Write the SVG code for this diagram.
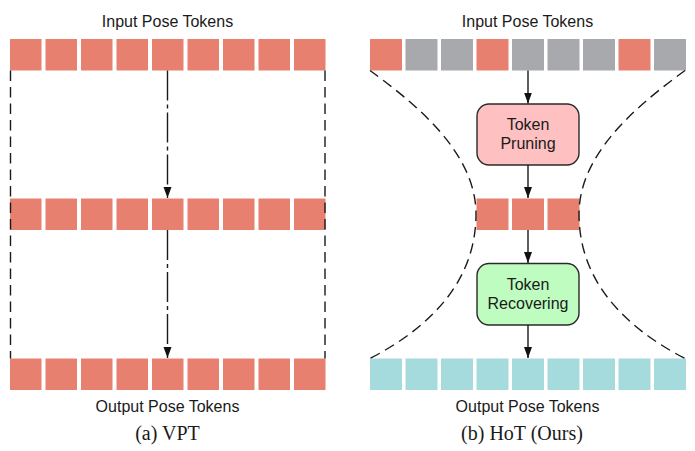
<svg xmlns="http://www.w3.org/2000/svg" width="695" height="451" viewBox="0 0 695 451">
<defs>
<style>
.r{fill:#E8806F}
.g{fill:#A7A9AC}
.c{fill:#A6DBDE}
.lbl{font-family:"Liberation Sans",Arial,sans-serif;font-size:16px;fill:#1a1a1a;text-anchor:middle}
.cap{font-family:"Liberation Serif","Times New Roman",serif;font-size:20px;fill:#1a1a1a;text-anchor:middle}
.dash{fill:none;stroke:#1a1a1a;stroke-width:1.4;stroke-dasharray:10.5 6}
.dd{fill:none;stroke:#1a1a1a;stroke-width:1.4;stroke-dasharray:30 4 4 4}
.arr{fill:none;stroke:#1a1a1a;stroke-width:1.4}
.box{stroke:#2a2a2a;stroke-width:1.4}
</style>
<marker id="ah" viewBox="0 0 11 9" refX="11" refY="4.5" markerWidth="11" markerHeight="9" markerUnits="userSpaceOnUse" orient="auto">
<path d="M0,0.5 L11,4.5 L0,8.5 Z" fill="#111"/>
</marker>
</defs>
<rect width="695" height="451" fill="#fff"/>

<text class="lbl" x="167.5" y="27">Input Pose Tokens</text>
<text class="lbl" x="527.5" y="27">Input Pose Tokens</text>
<text class="lbl" x="167.5" y="412">Output Pose Tokens</text>
<text class="lbl" x="527.5" y="412">Output Pose Tokens</text>
<text class="cap" x="167.5" y="440">(a) VPT</text>
<text class="cap" x="522" y="440">(b) HoT (Ours)</text>

<g id="vpt-input">
<rect class="r" x="10" y="39" width="31.5" height="31.5"/>
<rect class="r" x="45.5" y="39" width="31.5" height="31.5"/>
<rect class="r" x="81" y="39" width="31.5" height="31.5"/>
<rect class="r" x="116.5" y="39" width="31.5" height="31.5"/>
<rect class="r" x="152" y="39" width="31.5" height="31.5"/>
<rect class="r" x="187.5" y="39" width="31.5" height="31.5"/>
<rect class="r" x="223" y="39" width="31.5" height="31.5"/>
<rect class="r" x="258.5" y="39" width="31.5" height="31.5"/>
<rect class="r" x="294" y="39" width="31.5" height="31.5"/>
</g>
<g id="vpt-middle">
<rect class="r" x="10" y="198.5" width="31.5" height="31.5"/>
<rect class="r" x="45.5" y="198.5" width="31.5" height="31.5"/>
<rect class="r" x="81" y="198.5" width="31.5" height="31.5"/>
<rect class="r" x="116.5" y="198.5" width="31.5" height="31.5"/>
<rect class="r" x="152" y="198.5" width="31.5" height="31.5"/>
<rect class="r" x="187.5" y="198.5" width="31.5" height="31.5"/>
<rect class="r" x="223" y="198.5" width="31.5" height="31.5"/>
<rect class="r" x="258.5" y="198.5" width="31.5" height="31.5"/>
<rect class="r" x="294" y="198.5" width="31.5" height="31.5"/>
</g>
<g id="vpt-output">
<rect class="r" x="10" y="358.5" width="31.5" height="31.5"/>
<rect class="r" x="45.5" y="358.5" width="31.5" height="31.5"/>
<rect class="r" x="81" y="358.5" width="31.5" height="31.5"/>
<rect class="r" x="116.5" y="358.5" width="31.5" height="31.5"/>
<rect class="r" x="152" y="358.5" width="31.5" height="31.5"/>
<rect class="r" x="187.5" y="358.5" width="31.5" height="31.5"/>
<rect class="r" x="223" y="358.5" width="31.5" height="31.5"/>
<rect class="r" x="258.5" y="358.5" width="31.5" height="31.5"/>
<rect class="r" x="294" y="358.5" width="31.5" height="31.5"/>
</g>

<g id="hot-input">
<rect class="r" x="370" y="39" width="32" height="31.5"/>
<rect class="g" x="405.5" y="39" width="32" height="31.5"/>
<rect class="g" x="441" y="39" width="32" height="31.5"/>
<rect class="r" x="476.5" y="39" width="32" height="31.5"/>
<rect class="g" x="512" y="39" width="32" height="31.5"/>
<rect class="g" x="547.5" y="39" width="32" height="31.5"/>
<rect class="g" x="583" y="39" width="32" height="31.5"/>
<rect class="r" x="618.5" y="39" width="32" height="31.5"/>
<rect class="g" x="654" y="39" width="32" height="31.5"/>
</g>
<g id="hot-pruned">
<rect class="r" x="476.5" y="198.5" width="32" height="31.5"/>
<rect class="r" x="512" y="198.5" width="32" height="31.5"/>
<rect class="r" x="547.5" y="198.5" width="32" height="31.5"/>
</g>
<g id="hot-output">
<rect class="c" x="370" y="358.5" width="32" height="31.5"/>
<rect class="c" x="405.5" y="358.5" width="32" height="31.5"/>
<rect class="c" x="441" y="358.5" width="32" height="31.5"/>
<rect class="c" x="476.5" y="358.5" width="32" height="31.5"/>
<rect class="c" x="512" y="358.5" width="32" height="31.5"/>
<rect class="c" x="547.5" y="358.5" width="32" height="31.5"/>
<rect class="c" x="583" y="358.5" width="32" height="31.5"/>
<rect class="c" x="618.5" y="358.5" width="32" height="31.5"/>
<rect class="c" x="654" y="358.5" width="32" height="31.5"/>
</g>

<g id="token-pruning">
<rect class="box" x="477" y="104" width="102" height="61" rx="12" fill="#FFC0C1"/>
<text class="lbl" x="528" y="130">Token</text>
<text class="lbl" x="528" y="149">Pruning</text>
</g>
<g id="token-recovering">
<rect class="box" x="477" y="263.5" width="102" height="61.5" rx="12" fill="#BEFCBF"/>
<text class="lbl" x="528" y="290">Token</text>
<text class="lbl" x="528" y="309">Recovering</text>
</g>

<g id="connectors">
<line class="dash" x1="10.5" y1="70.5" x2="10.5" y2="358.5"/>
<line class="dash" x1="325" y1="70.5" x2="325" y2="358.5"/>
<line class="dd" x1="167.5" y1="70.5" x2="167.5" y2="198" marker-end="url(#ah)"/>
<line class="dd" x1="167.5" y1="230" x2="167.5" y2="358" marker-end="url(#ah)"/>
<path class="dash" d="M370,70.5 C410,100 476,150 476,214 C476,285 425,330 370,358.5"/>
<path class="dash" d="M685,70.5 C645,100 579,150 579,214 C579,285 630,330 685,358.5"/>
<line class="arr" x1="528" y1="70.5" x2="528" y2="103.5" marker-end="url(#ah)"/>
<line class="arr" x1="528" y1="165" x2="528" y2="198" marker-end="url(#ah)"/>
<line class="arr" x1="528" y1="230" x2="528" y2="263" marker-end="url(#ah)"/>
<line class="arr" x1="528" y1="325" x2="528" y2="358" marker-end="url(#ah)"/>
</g>
</svg>
